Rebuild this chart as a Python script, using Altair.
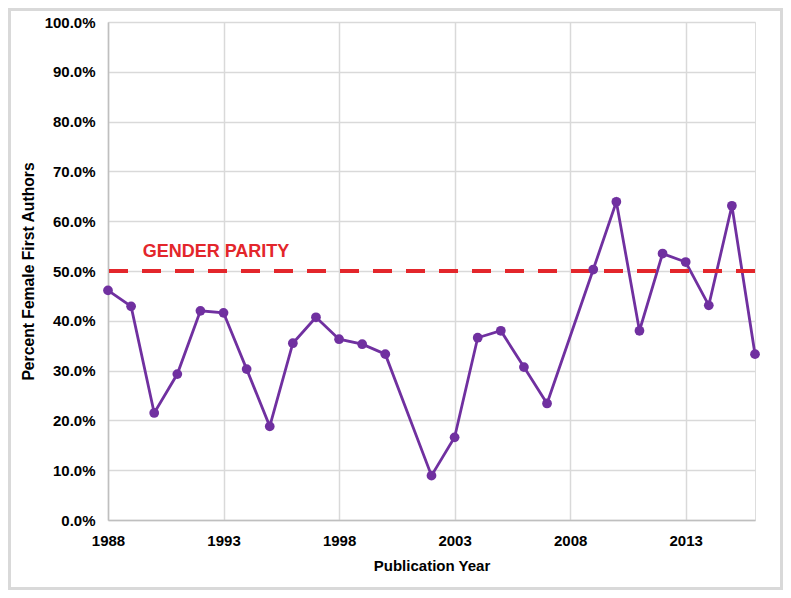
import altair as alt
import pandas as pd

years = [1988, 1989, 1990, 1991, 1992, 1993, 1994, 1995, 1996, 1997, 1998, 1999, 2000,
         2002, 2003, 2004, 2005, 2006, 2007, 2009, 2010, 2011, 2012, 2013, 2014, 2015, 2016]
percent = [46.1, 42.9, 21.5, 29.3, 42.0, 41.6, 30.3, 18.8, 35.5, 40.7, 36.3, 35.3, 33.3,
           8.9, 16.6, 36.6, 38.0, 30.7, 23.4, 50.3, 63.9, 38.0, 53.5, 51.8, 43.1, 63.1, 33.3]
x_ticks = [1988, 1993, 1998, 2003, 2008, 2013]
y_ticks = [0, 10, 20, 30, 40, 50, 60, 70, 80, 90, 100]
parity = 50
parity_label = "GENDER PARITY"

df = pd.DataFrame({"year": years, "pct": [p / 100 for p in percent]})
ref = pd.DataFrame({"y": [parity / 100]})
lab = pd.DataFrame({"year": [1989.5], "y": [0.528], "text": [parity_label]})

FONT = "Liberation Sans"
PURPLE = "#7030A0"
RED = "#E3262B"

W, H = 647, 498
PAD_L, PAD_T, PAD_R, PAD_B = 100, 14, 28, 70

x_scale = alt.Scale(domain=[1988, 2016], nice=False, zero=False)
y_scale = alt.Scale(domain=[0, 1], nice=False)

x_enc = alt.X("year:Q", scale=x_scale,
              axis=alt.Axis(values=x_ticks, format="d", title="Publication Year",
                            labelFontSize=15, labelFontWeight="bold", labelColor="#000",
                            labelPadding=13, labelFlush=False, ticks=False,
                            titleFontSize=15, titleFontWeight="bold", titleColor="#000",
                            titlePadding=10,
                            grid=True, gridColor="#d9d9d9", gridWidth=1.5,
                            domainColor="#bfbfbf", domainWidth=1.5, labelFont=FONT,
                            titleFont=FONT))
y_enc = alt.Y("pct:Q", scale=y_scale,
              axis=alt.Axis(values=[v / 100 for v in y_ticks], format=".1%",
                            title="Percent Female First Authors",
                            labelFontSize=15, labelFontWeight="bold", labelColor="#000",
                            labelPadding=13, labelFlush=False, ticks=False,
                            titleFontSize=15.7, titleFontWeight="bold", titleColor="#000",
                            titlePadding=8,
                            grid=True, gridColor="#d9d9d9", gridWidth=1.5,
                            domainColor="#bfbfbf", domainWidth=1.5, labelFont=FONT,
                            titleFont=FONT))

line = alt.Chart(df).mark_line(color=PURPLE, strokeWidth=2.8).encode(x=x_enc, y=y_enc)
pts = alt.Chart(df).mark_circle(color=PURPLE, size=95, opacity=1).encode(
    x=alt.X("year:Q", scale=x_scale), y=alt.Y("pct:Q", scale=y_scale))

rule = alt.Chart(ref).mark_rule(color=RED, strokeWidth=4, strokeDash=[19, 14]).encode(
    y=alt.Y("y:Q", scale=y_scale))

text = alt.Chart(lab).mark_text(color=RED, font=FONT, fontSize=18, fontWeight="bold",
                                align="left", baseline="alphabetic").encode(
    x=alt.X("year:Q", scale=x_scale), y=alt.Y("y:Q", scale=y_scale), text="text:N")

frame = alt.Chart(ref).mark_rect(fill=None, stroke="#d9d9d9", strokeWidth=3, clip=False).encode(
    x=alt.value(-PAD_L + 1.5), x2=alt.value(W + PAD_R - 1.5),
    y=alt.value(-PAD_T + 1.5), y2=alt.value(H + PAD_B - 1.5))

chart = alt.layer(frame, line, rule, pts, text).properties(
    width=W, height=H,
    autosize=alt.AutoSizeParams(type="none"),
    padding={"left": PAD_L, "top": PAD_T, "right": PAD_R, "bottom": PAD_B},
).configure_view(stroke=None).configure(background="white")

chart.save("out.html", embed_options={"renderer": "svg", "actions": False})
